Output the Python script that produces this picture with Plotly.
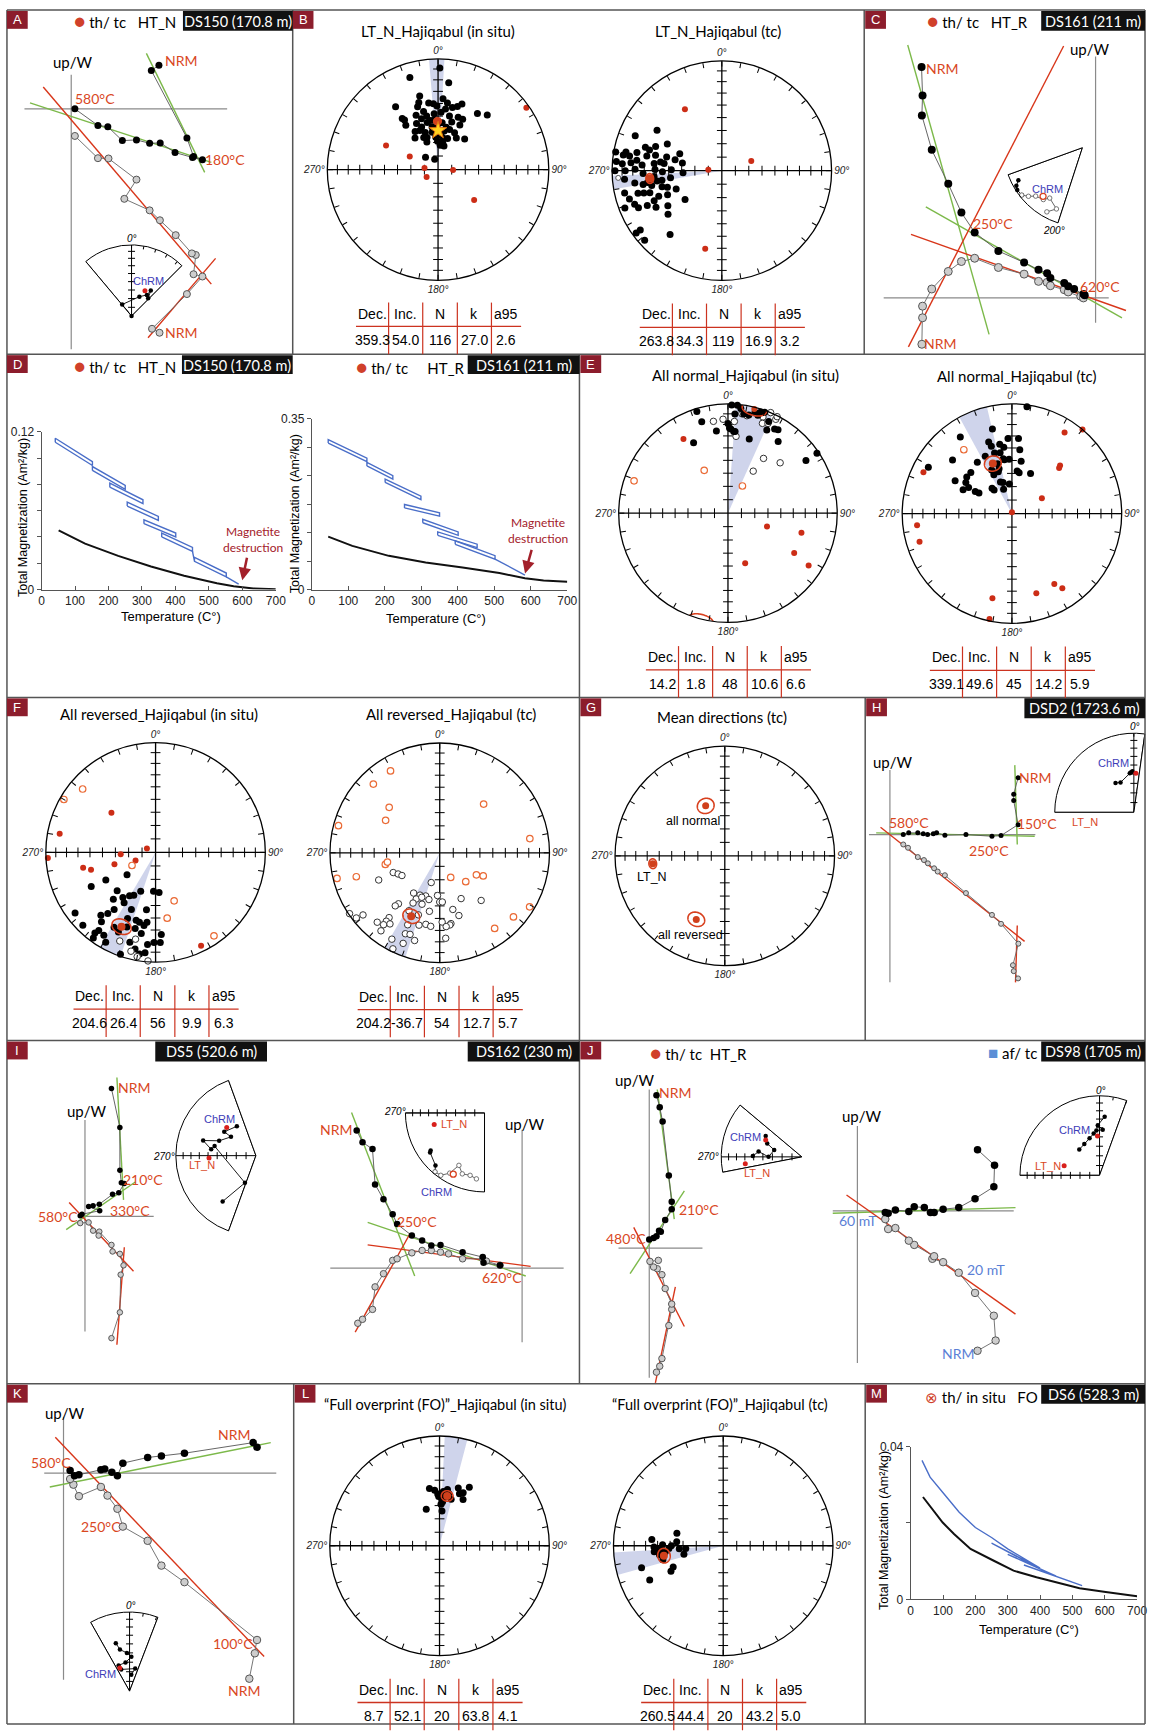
import numpy as np
import plotly.graph_objects as go

W, H = 1157, 1733

# ===================== DATA =====================
# Stereonet directions: (declination, inclination) in degrees
B_IS_BLK = [(1,9),(343,14),(7,22),(346,32),(4,36),(356,40),(352,39),(344,37),(342,40),(326,32),
            (17,40),(20,37),(13,42),(7,44),(35,38),(42,34),(325,43),(326,45),(346,45),(348,49),
            (356,48),(3,47),(12,49),(21,48),(26,48),(324,49),(335,52),(339,56),(347,54),(5,55),
            (16,53),(26,53),(329,57),(335,58),(341,61),(351,62),(9,61),(16,59),(24,60),(324,61),
            (341,65),(356,66),(8,66),(17,66),(30,63),(41,60),(338,68),(359,69),(10,70),(14,72),
            (5,72),(315,77),(342,82),(342,50),(351,53),(359,57),(11,58),(352,58),(338,46),(8,39),
            (359,42),(355,53),(4,64),(336,64)]
B_IS_RED = [(55,3),(295,47),(295,67),(277,80),(91,79),(237,80),(130,55)]
B_TC_BLK = [(302,31),(292,16),(287,28),(290,36),(286,32),(282,22),(281,12),(280,2),(279,10),(279,16),
            (277,23),(281,31),(283,38),(296,44),(292,56),(281,60),(284,47),(278,43),(276,38),(274,28),
            (275,18),(274,10),(275,4),(270,3),(270,13),(271,22),(268,29),(271,39),(269,45),(271,52),
            (267,61),(265,38),(261,44),(262,51),(255,43),(258,35),(260,28),(262,21),(265,12),(253,47),
            (248,53),(232,55),(257,10),(255,22),(253,32),(248,38),(246,45),(249,16),(245,26),(241,32),
            (237,41),(249,6),(246,18),(231,37),(219,26),(234,9),(234,4),(228,6),(254,27),(246,33),
            (253,13),(263,35),(261,40),(261,32),(277,46),(283,54)]
B_TC_RED = [(329,35),(72,67),(274,80),(192,28)]
B_TC_OPEN = [(266,-6)]
GAD_DIR = [(0,61)]

E_IS_BLK = [(343,3),(344,14),(352,25),(334,29),(2,1),(5,1),(4,10),(9,9),(12,9),(15,5),(17,7),(18,3),
            (1,23),(4,26),(5,26),(16,30),(25,17),(29,13),(31,12),(24,9),(35,21),(56,15),(56,2),(0,19),
            (7,4),(20,2),(2,24)]
E_IS_OPEN = [(351,-16),(357,-15),(4,-17),(6,-30),(8,-9),(11,-10),(20,-7),(21,-13),(24,-11),(23,0),
             (27,-4),(27,-1),(33,-40),(46,-34),(31,-53)]
E_IS_RED = [(329,22),(109,59),(105,31),(121,30),(161,50),(123,13)]
E_IS_ORG = [(289,-10),(331,-53),(28,-67)]
E_TC_BLK = [(8,2),(347,22),(357,32),(5,32),(7,41),(350,36),(353,39),(342,32),(343,36),(326,17),
            (312,28),(299,14),(326,43),(335,42),(344,42),(349,43),(351,48),(352,49),(357,49),(10,50),
            (7,58),(10,59),(25,57),(344,51),(344,55),(335,54),(335,58),(315,46),(309,46),(304,48),
            (300,40),(296,49),(301,52),(301,58),(302,61),(322,66),(323,68),(340,65),(344,66),(355,68),
            (341,71),(342,57)]
E_TC_RED = [(33,13),(40,0),(45,38),(46,40),(63,65),(295,12),(263,14),(253,13),(193,22),(192,2),
            (163,25),(149,26),(146,19),(0,89)]
E_TC_ORG = [(323,-28)]

F_IS_BLK = [(232,63),(241,47),(242,34),(225,49),(216,48),(211,52),(207,54),(201,59),(183,61),(175,60),
            (222,42),(212,45),(233,9),(221,25),(218,30),(218,21),(216,36),(203,43),(203,35),(196,36),
            (193,35),(189,46),(187,36),(225,7),(217,9),(216,13),(216,4),(212,12),(209,23),(205,21),
            (201,28),(195,29),(190,26),(189,33),(185,17),(181,19),(176,26),(177,19),(199,2),(196,16),
            (192,11),(189,7),(186,9),(209,7)]
F_IS_OPEN = [(202,-14),(193,-20),(194,-8),(190,-4),(184,-1)]
F_IS_RED = [(312,45),(281,12),(294,83),(267,64),(267,2),(248,74),(254,58),(258,33),(255,39),(154,6)]
F_IS_ORG = [(311,-13),(300,-4),(241,-70),(159,-51),(170,-39),(145,-8)]
F_TC_OPEN = [(247,-52),(243,-55),(239,-57),(246,-39),(196,-67),(213,-54),(205,-55),(198,-56),(193,-54),
             (207,-51),(202,-54),(183,-58),(180,-53),(155,-52),(139,-42),(208,-47),(199,-49),(219,-40),
             (220,-37),(208,-40),(190,-45),(167,-46),(163,-40),(218,-26),(218,-22),(218,-18),(222,-16),
             (215,-22),(199,-40),(196,-32),(204,-29),(178,-37),(171,-35),(172,-34),(191,-34),(187,-33),
             (217,-12),(203,-21),(200,-22),(196,-18),(175,-33),(176,-23),(209,-11),(202,-12),(206,-3),
             (231,-11),(232,-4),(236,-1),(177,-53)]
F_TC_ORG = [(329,-14),(316,-14),(312,-38),(301,-42),(42,-40),(285,-5),(81,-18),(258,-48),(260,-50),
            (256,-4),(254,-22),(156,-70),(138,-61),(121,-58),(118,-53),(121,-5),(131,-12),(144,-16)]

L_IS_BLK = [(350,46),(358,51),(359,53),(4,49),(8,47),(18,44),(27,40),(24,46),(27,51),(7,53),
            (3,56),(2,59),(4,64),(340,61),(10,50),(1,51),(14,54),(355,48),(21,48),(4,57)]
L_TC_BLK = [(285,54),(275,35),(269,37),(271,44),(270,51),(266,57),(266,62),(258,60),(262,41),(257,43),
            (255,24),(244,46),(247,49),(245,27),(267,40),(264,46),(267,49),(266,42),(275,55),(265,37)]

# Site means: (Dec, Inc, N, k, a95)
B_IS_MEAN = (359.3, 54.0, 116, 27.0, 2.6)
B_TC_MEAN = (263.8, 34.3, 119, 16.9, 3.2)
E_IS_MEAN = (14.2, 1.8, 48, 10.6, 6.6)
E_TC_MEAN = (339.1, 49.6, 45, 14.2, 5.9)
F_IS_MEAN = (204.6, 26.4, 56, 9.9, 6.3)
F_TC_MEAN = (204.2, -36.7, 54, 12.7, 5.7)
L_IS_MEAN = (8.7, 52.1, 20, 63.8, 4.1)
L_TC_MEAN = (260.5, 44.4, 20, 43.2, 5.0)
# declination-uncertainty half widths (deg)
B_IS_DD, B_TC_DD, E_IS_DD, E_TC_DD = 4, 3.5, 10, 7.7
F_IS_DD, F_TC_DD, L_IS_DD, L_TC_DD = 6, 6, 6, 6

# Inset stereonet demagnetization paths (dec, inc); negative inc = upper hemisphere
A_INS = [(321,73),(22,66),(36,60),(37,53),(43,62)]
A_INS_CHRM = [(28,57)]
C_INS_BLK = [(243,10),(240,4),(237,2),(232,3)]
C_INS_GRY = [(232,3),(228,-9),(224,-16),(217,-19),(213,-25),(203,-17),(209,-8)]
C_INS_CHRM = [(219,-22)]
H_INS = [(328,54),(336,56),(354,49),(356,48),(358,47)]
H_INS_CHRM = [(3,49)]
H_LTN = [(269,37)]
IL_INS = [(327,54),(307,49),(307,58),(292,49),(286,32),(278,43),(283,46),(202,60),(216,30)]
IL_INS_CHRM = [(314,48)]
IL_LTN = [(267,41)]
IR_INS_BLK = [(235,18),(234,16),(223,10),(220,3)]
IR_INS_GRY = [(220,3),(215,-4),(210,-13),(206,-27),(200,-19),(193,-20),(187,-17)]
IR_INS_CHRM = [(207,-14)]
IR_LTN = [(257,35)]
JL_INS = [(300,47),(291,52),(284,61),(270,56),(277,45),(271,39)]
JL_INS_CHRM = [(295,49)]
JL_LTN = [(263,30)]
JR_INS = [(5,27),(358,37),(4,42),(356,43),(352,46),(345,50),(334,54),(322,56)]
JR_INS_CHRM = [(357,49)]
JR_LTN = [(285,52)]
K_INS = [(344,37),(347,45),(356,50),(3,54),(352,60),(337,61),(339,66),(14,66),(6,73)]
K_INS_CHRM = [(337,64)]

# Zijderveld data (N-component, up/W component), arbitrary intensity units
A_HOR = [(88.7,44),(81,38.7),(117,-29.3),(123.7,-48),(132.7,-51.3),(122.7,-49),(105,-44),(90,-34.3),
         (79.3,-34.7),(66,-31.3),(51.7,-32),(37,-18),(27,-16.7),(3.7,0)]
A_VER = [(89.3,-225.7),(81.7,-221.7),(117,-186.7),(132.7,-169),(123.7,-166.7),(126,-147.3),(122,-145.7),
         (105.7,-127.3),(89.7,-112.3),(79.3,-102.3),(53.7,-90.7),(66,-71.3),(37.7,-50),(27,-49.7),(3.7,-27.3)]
A_FIT_G = [((76,56),(135,-64)),((-41.7,6),(141.7,-54))]
A_FIT_R = [((-28.3,22),(141.7,-176.7)),((77.7,-230.7),(146,-150.7))]
C_HOR = [(-176,232.7),(-175,204),(-175.7,184),(-165.7,149.3),(-149,115),(-135.7,86),(-122.3,66),(-98.3,47.3),
         (-72.3,35.7),(-57.7,28.3),(-49,25),(-45.7,20),(-31.7,15),(-27.7,11.7),(-21.7,9),(-12.3,4),(-11,2.7)]
C_VER = [(-175.7,-46.7),(-175,-20),(-175,-8.3),(-165.7,9),(-149,26.7),(-135.7,36.7),(-122.3,40),(-98.3,30.7),
         (-72.3,24),(-57.7,16.7),(-49,15.7),(-45.7,12.3),(-31.7,8.3),(-27.7,6),(-15,1.7),(-12.3,0)]
C_FIT_G = [((-190,255),(-107.7,-36.7)),((-171.7,91.7),(26.7,-20))]
C_FIT_R = [((-32.3,254),(-189.3,-49.3)),((-186.7,64),(30.7,-12.7))]
H_HOR = [(129.6,57.3),(125.2,40.7),(125.2,34.3),(129.6,10),(112.4,-1),(103.2,-1.7),(76.9,0),(55.6,-0.7),
         (47.2,1.7),(43.9,0.7),(38.1,0),(33.7,0.7),(28.2,1.7),(19,1.7),(13.5,0)]
H_VER = [(129.6,-145),(125.2,-137.7),(124.4,-131.7),(129.9,-110),(112.4,-90),(103.2,-81),(76.9,-59),
         (55.6,-41),(48.3,-37.3),(44.7,-34),(38.4,-29),(34.4,-25.7),(28.2,-22.7),(18.3,-13.3),(13.5,-10)]
H_FIT_G = [((126.3,70),(128.8,-10)),((-13.9,1.7),(146.4,-1.7))]
H_FIT_R = [((-9.5,7.3),(136.2,-107.7)),((128.8,-91.7),(127,-149))]
IL_HOR = [(26.8,129),(35.3,89.7),(35.3,46.7),(36.8,34),(39.8,33.3),(34.2,24),(27.9,22.3),(14.5,12.3),
          (8.2,10.7),(3.7,10),(14.9,5.7),(-3,2.3),(-4.8,0.7)]
IL_VER = [(26.8,-122.7),(35.3,-96.7),(36.1,-58.7),(39,-49.3),(35.3,-37.7),(27.9,-35.3),(26.8,-28.7),
          (14.5,-15.3),(13.8,-19.3),(8.2,-14.3),(3.7,-6),(-4.8,-6.7)]
IL_FIT_G = [((32.3,140),(39,16.7)),((-19,-13.3),(50.9,34.7))]
IL_FIT_R = [((-16,14),(49.1,-55.3)),((39.8,-31),(32.3,-129.3))]
IR_HOR = [(-167.3,138.7),(-161.4,126.7),(-151.3,120),(-148.7,84.3),(-140.2,69.3),(-130.9,54.3),(-126.4,44.3),
          (-111.5,32.7),(-101.1,27.7),(-91.8,22.7),(-82.5,23.3),(-60.2,16),(-39.8,11),(-39,5.3),(-22.3,2.7)]
IR_VER = [(-166.2,-55.7),(-161.4,-51.7),(-151.3,-41.7),(-148.7,-19),(-140.2,-5.7),(-130.9,7.7),(-126.4,9.3),
          (-111.5,15.3),(-101.1,17.7),(-91.8,17.7),(-82.5,16),(-74.4,14.3),(-60.2,9.3),(-39.8,9.3),(-36.1,7),(-22.3,2.7)]
IR_FIT_G = [((-172.5,156.7),(-108.6,-8)),((-156.2,46),(3.7,-8))]
IR_FIT_R = [((-156.2,23.3),(8.6,1.7)),((-168.8,-64.7),(-113,35.3))]
JL_HOR = [(7.3,154.3),(10.6,142),(13.5,127.7),(19.8,73.3),(22.7,46.7),(22.7,39.3),(16.1,28.3),(11.7,16.7),
          (9.9,17.7),(7.3,12),(4.4,10.3),(0,8.7)]
JL_VER = [(7.3,-125),(10.6,-119),(12.8,-111.3),(19.8,-78),(22.7,-61.7),(22.7,-56.3),(16.1,-40.7),(12.8,-26.7),
          (8.1,-20.7),(4.4,-19),(0.7,-13.3),(9.2,-12.3)]
JL_FIT_G = [((8.1,160),(25.3,29.3)),((35.5,57.7),(-19.4,-25.7))]
JL_FIT_R = [((-15.7,21),(35.5,-79)),((26.4,-39),(6.2,-135.7))]
JR_HOR = [(121.5,61.7),(138.7,46),(138,24.3),(119,12.3),(102.5,3.3),(86.7,1.7),(77.6,-1.7),(73.9,-1.7),
          (67.7,3.3),(57.5,4.3),(52,-0.7),(38.4,1),(31.1,-2.3),(28.2,-1.7)]
JR_VER = [(121.5,-141),(139.8,-130.7),(138,-105.7),(119,-82.7),(102.5,-62.3),(86.7,-51.7),(75.8,-48.3),
          (77.6,-45.7),(57.5,-34.3),(52,-30),(38.4,-17.3),(31.1,-18.3),(28.2,-8.3)]
JR_FIT_G = [((-24.9,-2.3),(159.9,3.3))]
JR_FIT_R = [((-11,16),(159.9,-104))]
K_HOR = [(195.7,26),(191.8,30.7),(122.3,20),(99,17.3),(85.1,15.7),(60,10),(54.5,-2.7),(48.9,0.7),(41.7,4),
         (37.8,3.3),(15.6,-1.7),(11.1,-2.7),(6.7,2.7)]
K_VER = [(187.9,-207.3),(193.5,-181.7),(195.7,-168.3),(122.3,-110),(99,-93.3),(85.1,-68.3),(60,-54),(54.5,-36),
         (44.5,-22.7),(37.8,-14),(15.6,-23.3),(10,-11.7),(6.7,-6)]
K_FIT_G = [((-13.9,-14),(209.6,30.7))]
K_FIT_R = [((-8.3,36),(202.9,-185))]

# Thermomagnetic curves: temperature (deg C) and total magnetization (Am2/kg); None separates cycles
D1_HEAT_T = [41,152,152,41,41,None,152,250,250,152,152,None,204,303,303,204,204,None,256,349,349,256,256,None,
             306,401,401,306,306,None,359,451,451,359,359,None,451,457,552,552,457,457,None,552,589]
D1_HEAT_M = [.1121,.0944,.0974,.1151,.1121,None,.0906,.0762,.0792,.0936,.0906,None,.0779,.0653,.0683,.0809,.0779,None,
             .0635,.0526,.0556,.0665,.0635,None,.0501,.0400,.0430,.0531,.0501,None,.0400,.0291,.0321,.0430,.0400,None,
             .0291,.0215,.0096,.0126,.0245,.0215,None,.0096,.0042]
D1_COOL_T = [51,130,229,327,426,475,524,574,633,700]
D1_COOL_M = [.045,.0349,.0256,.0175,.0105,.0075,.0048,.0025,.0008,.0003]
D2_HEAT_T = [45,151,151,45,45,None,151,222,222,151,151,None,201,299,299,201,201,None,254,350,350,254,254,None,
             304,401,401,304,304,None,345,453,453,345,345,None,393,502,502,393,393,None,502,584]
D2_HEAT_M = [.2999,.262,.269,.3069,.2999,None,.2532,.2261,.2331,.2602,.2532,None,.2193,.1841,.1911,.2263,.2193,None,
             .1672,.1503,.1573,.1742,.1672,None,.1368,.111,.118,.1438,.1368,None,.111,.086,.093,.118,.111,None,
             .0927,.0623,.0693,.0997,.0927,None,.0623,.0298]
D2_COOL_T = [45,111,211,312,413,514,584,635,700]
D2_COOL_M = [.1083,.0894,.069,.0555,.0454,.0338,.023,.0183,.0162]
M_HEAT_T = [35,60,100,150,200,250,300,350,400,250,300,350,400,450,300,350,400,450,500,350,400,450,500,530]
M_HEAT_M = [.0364,.032,.0279,.0228,.0188,.0162,.0132,.0106,.0082,.0147,.0124,.0102,.0080,.0061,.0118,.0098,
            .0078,.0060,.0045,.0090,.0074,.0058,.0044,.0036]
M_COOL_T = [38,63,99,134,185,257,318,389,471,522,603,674,700]
M_COOL_M = [.0268,.024,.0201,.0171,.0132,.0101,.0075,.0058,.0041,.0029,.0019,.0012,.0008]

TAB_HEAD = ['Dec.', 'Inc.', 'N', 'k', 'a95']

# ===================== STYLE =====================
TXT = 'Liberation Sans, Arial, sans-serif'
LAB = 'Lato, Open Sans, sans-serif'
ZRED = '#d9481f'; FITRED = '#d8361a'; GREEN = '#7cb94a'; BLUET = '#5b7fd6'
CHRMC = '#3d3db8'; MAROON = '#8c1d2c'; TRED = '#cc3320'; PRED = '#cc2d16'
ORANGE = '#ea6a35'; WEDGE = 'rgba(178,186,222,0.62)'; TBLUE = '#4a6ec8'

fig = go.Figure()
LAY = {}
shapes = []
ann = []
_np = [0]
_nc = [0]


def ea(inc):
    inc = np.abs(np.asarray(inc, dtype=float))
    return np.sqrt(2) * np.sin(np.radians(90 - inc) / 2)


def add_text(x, y, text, size=13, color='black', font=LAB, xanchor='center', yanchor='middle', **kw):
    ann.append(dict(x=x / W, y=1 - y / H, xref='paper', yref='paper', text=text, showarrow=False,
                    font=dict(size=size, color=color, family=font), xanchor=xanchor, yanchor=yanchor, **kw))


def add_line(x0, y0, x1, y1, color='#555', width=1.5):
    shapes.append(dict(type='line', xref='paper', yref='paper', x0=x0 / W, y0=1 - y0 / H, x1=x1 / W,
                       y1=1 - y1 / H, line=dict(color=color, width=width)))


def add_rect(x0, y0, x1, y1, fill):
    shapes.append(dict(type='rect', xref='paper', yref='paper', x0=x0 / W, y0=1 - y1 / H, x1=x1 / W,
                       y1=1 - y0 / H, fillcolor=fill, line=dict(width=0)))


def sector_bbox(s0, s1):
    a0 = s0 % 360
    a1 = a0 + (s1 - s0)
    angs = [a0, a1] + [a for a in range(0, 811, 90) if a0 < a < a1]
    xs = [np.cos(np.radians(a)) for a in angs] + [0.0]
    ys = [np.sin(np.radians(a)) for a in angs] + [0.0]
    return min(xs), max(xs), min(ys), max(ys)


def new_polar(cx, cy, R, dec_range=None, ticklen=5, labels=True, lw=1.3):
    _np[0] += 1
    name = 'polar' if _np[0] == 1 else 'polar%d' % _np[0]
    if dec_range is None:
        sector = [0, 360]
        bx = (-1, 1, -1, 1)
    else:
        d0, d1 = dec_range
        sector = [90 - d1, 90 - d0]
        while sector[0] < 0:
            sector = [sector[0] + 360, sector[1] + 360]
        bx = sector_bbox(*sector)
    x0 = cx + R * bx[0]; x1 = cx + R * bx[1]
    yt = cy - R * bx[3]; yb = cy - R * bx[2]
    tv = list(range(0, 360, 10))
    tt = [('<i>%d°</i>' % v if (labels and v % 90 == 0) else '') for v in tv]
    LAY[name] = dict(
        domain=dict(x=[x0 / W, x1 / W], y=[1 - yb / H, 1 - yt / H]), sector=sector, bgcolor='white',
        angularaxis=dict(rotation=90, direction='clockwise', showgrid=False, showline=True,
                         linecolor='black', linewidth=lw, ticks='inside', ticklen=ticklen, tickwidth=1,
                         tickcolor='black', tickmode='array', tickvals=tv, ticktext=tt,
                         showticklabels=labels, tickfont=dict(size=10, family=TXT, color='#222')),
        radialaxis=dict(visible=False, range=[0, 1]))
    return name


def ptrace(sp, data, marker=None, mode='markers', line=None):
    d = [p[0] for p in data]
    i = [p[1] for p in data]
    fig.add_trace(go.Scatterpolar(theta=d, r=ea(i), subplot=sp, mode=mode, marker=marker, line=line,
                                  cliponaxis=False, showlegend=False, hoverinfo='skip'))


TICK_INC = np.arange(10, 90, 10)


def axis_line(sp, dec_a, dec_b=None, sym='line-ew', size=7, width=1.3):
    if dec_b is not None:
        th, rr = [dec_a, dec_b], [1, 1]
        td = [dec_a] * len(TICK_INC) + [dec_b] * len(TICK_INC)
        tr = list(ea(TICK_INC)) * 2
    else:
        th, rr = [dec_a, dec_a], [0, 1]
        td = [dec_a] * len(TICK_INC)
        tr = list(ea(TICK_INC))
    fig.add_trace(go.Scatterpolar(theta=th, r=rr, subplot=sp, mode='lines', line=dict(color='black', width=width),
                                  cliponaxis=False, showlegend=False, hoverinfo='skip'))
    if sym:
        fig.add_trace(go.Scatterpolar(theta=td, r=tr, subplot=sp, mode='markers',
                                      marker=dict(symbol=sym, size=size, line=dict(color='black', width=1)),
                                      cliponaxis=False, showlegend=False, hoverinfo='skip'))


def edge(sp, dec):
    fig.add_trace(go.Scatterpolar(theta=[dec, dec], r=[0, 1], subplot=sp, mode='lines',
                                  line=dict(color='black', width=1), cliponaxis=False, showlegend=False,
                                  hoverinfo='skip'))


def wedge(sp, dec, dd):
    arc = list(np.linspace(dec - dd, dec + dd, 24))
    fig.add_trace(go.Scatterpolar(theta=[dec] + arc + [dec], r=[0] + [1] * 24 + [0], subplot=sp, mode='lines',
                                  fill='toself', fillcolor=WEDGE, line=dict(width=0, color=WEDGE),
                                  showlegend=False, hoverinfo='skip'))


def small_circle(dec, inc, a95, n=120):
    D, I, A = np.radians([dec, inc, a95])
    m = np.array([np.cos(I) * np.cos(D), np.cos(I) * np.sin(D), np.sin(I)])
    e1 = np.array([-np.sin(I) * np.cos(D), -np.sin(I) * np.sin(D), np.cos(I)])
    e2 = np.array([-np.sin(D), np.cos(D), 0.0])
    t = np.linspace(0, 2 * np.pi, n)
    p = np.cos(A) * m[:, None] + np.sin(A) * (np.cos(t) * e1[:, None] + np.sin(t) * e2[:, None])
    dd = np.degrees(np.arctan2(p[1], p[0])) % 360
    ii = np.degrees(np.arcsin(np.clip(p[2], -1, 1)))
    return dd, ii


def mean_trace(sp, mean, size=8):
    dec, inc, N, k, a95 = mean
    dd, ii = small_circle(dec, inc, a95)
    flip = np.sign(ii) != np.sign(inc)
    th = np.where(flip, dd + 180, dd) % 360
    rr = ea(ii)
    T, Rr = [], []
    for j in range(len(th)):
        if j > 0 and flip[j] != flip[j - 1]:
            T.append(None); Rr.append(None)
        T.append(float(th[j])); Rr.append(float(rr[j]))
    fig.add_trace(go.Scatterpolar(theta=T, r=Rr, subplot=sp, mode='lines', line=dict(color='#d8401e', width=1.6),
                                  cliponaxis=False, showlegend=False, hoverinfo='skip', connectgaps=False))
    ptrace(sp, [(dec, inc)], marker=dict(size=size, color='#d0401c'))


def table(cx, cy, mean):
    dec, inc, N, k, a95 = mean
    vals = ['%.1f' % dec, '%.1f' % inc, '%d' % N, '%.1f' % k, '%.1f' % a95]
    edges = [-83, -50, -15.5, 19.5, 54, 84]
    for j in range(5):
        xc = cx + (edges[j] + edges[j + 1]) / 2
        add_text(xc, cy + 145, TAB_HEAD[j], size=14, font=TXT)
        add_text(xc, cy + 172, vals[j], size=14, font=TXT)
    add_line(cx - 83, cy + 158, cx + 84, cy + 158, color=TRED, width=1.3)
    for e in edges[1:5]:
        add_line(cx + e, cy + 134, cx + e, cy + 186, color=TRED, width=1.2)


BLK = dict(size=7, color='black')
OPEN = dict(size=6.5, color='white', line=dict(color='#333', width=1))
REDM = dict(size=6, color=PRED)
ORG = dict(size=6.5, color='white', line=dict(color=ORANGE, width=1.2))


def net(cx, cy, R, title, tx, ty, tsize=15):
    sp = new_polar(cx, cy, R)
    add_text(tx, ty, title, size=tsize)
    return sp


def furniture(sp):
    axis_line(sp, 0, 180, 'line-ew')
    axis_line(sp, 90, 270, 'line-ns')


# ---------- cartesian helpers ----------
def new_cart(box, origin=None, xr=None, yr=None, visible=False, xstyle=None, ystyle=None):
    _nc[0] += 1
    n = _nc[0]
    xa = 'xaxis' if n == 1 else 'xaxis%d' % n
    ya = 'yaxis' if n == 1 else 'yaxis%d' % n
    xid = 'x' if n == 1 else 'x%d' % n
    yid = 'y' if n == 1 else 'y%d' % n
    x0, y0, x1, y1 = box
    if origin is not None:
        ox, oy = origin
        xr = [x0 - ox, x1 - ox]
        yr = [oy - y1, oy - y0]
    LAY[xa] = dict(domain=[x0 / W, x1 / W], range=xr, anchor=yid, visible=visible, showgrid=False,
                   zeroline=False, fixedrange=True, **(xstyle or {}))
    LAY[ya] = dict(domain=[1 - y1 / H, 1 - y0 / H], range=yr, anchor=xid, visible=visible, showgrid=False,
                   zeroline=False, fixedrange=True, **(ystyle or {}))
    return xid, yid


def zij(box, origin, hor, ver, fits_g, fits_r, cross_ext, labels, ms=7):
    xid, yid = new_cart(box, origin)

    def sc(**kw):
        fig.add_trace(go.Scatter(xaxis=xid, yaxis=yid, showlegend=False, hoverinfo='skip', cliponaxis=False, **kw))
    xa0, xa1, ya0, ya1 = cross_ext
    sc(x=[xa0, xa1], y=[0, 0], mode='lines', line=dict(color='#8a8a8a', width=1.2))
    sc(x=[0, 0], y=[ya0, ya1], mode='lines', line=dict(color='#8a8a8a', width=1.2))
    for p, q in fits_g:
        sc(x=[p[0], q[0]], y=[p[1], q[1]], mode='lines', line=dict(color=GREEN, width=1.4))
    for p, q in fits_r:
        sc(x=[p[0], q[0]], y=[p[1], q[1]], mode='lines', line=dict(color=FITRED, width=1.4))
    sc(x=[p[0] for p in ver], y=[p[1] for p in ver], mode='lines+markers', line=dict(color='#666', width=0.9),
       marker=dict(size=ms, color='#cdcdcd', line=dict(color='#555', width=1)))
    sc(x=[p[0] for p in hor], y=[p[1] for p in hor], mode='lines+markers', line=dict(color='#555', width=0.9),
       marker=dict(size=ms, color='black'))
    for lb in labels:
        text, x, y = lb[0], lb[1], lb[2]
        col = lb[3] if len(lb) > 3 else (ZRED if text != 'up/W' else 'black')
        ann.append(dict(x=x, y=y, xref=xid, yref=yid, text=text, showarrow=False,
                        font=dict(size=15 if text == 'up/W' else 14, color=col, family=LAB)))


def thermo(box, ymax, ytv, ytt, hT, hM, cT, cM):
    ax = dict(showline=True, linecolor='#555', linewidth=1, ticklen=4, tickcolor='#555',
              tickfont=dict(size=12, family=TXT, color='#222'))
    xs = dict(ax, ticks='inside', tickmode='array', tickvals=list(range(0, 701, 100)))
    ys = dict(ax, ticks='outside', tickmode='array', tickvals=ytv, ticktext=ytt)
    xid, yid = new_cart(box, xr=[0, 700], yr=[0, ymax], visible=True, xstyle=xs, ystyle=ys)
    fig.add_trace(go.Scatter(x=cT, y=cM, xaxis=xid, yaxis=yid, mode='lines', line=dict(color='#111', width=2),
                             showlegend=False, hoverinfo='skip'))
    fig.add_trace(go.Scatter(x=hT, y=hM, xaxis=xid, yaxis=yid, mode='lines', line=dict(color=TBLUE, width=1.4),
                             showlegend=False, hoverinfo='skip', connectgaps=False))


def inset(cx, cy, R, drange, axes, pts_paths, chrm, ltn=None):
    sp = new_polar(cx, cy, R, drange, ticklen=3, labels=False, lw=1)
    edge(sp, drange[0]); edge(sp, drange[1])
    for d, sym in axes:
        axis_line(sp, d, None, sym, size=5, width=1)
    for data, kind in pts_paths:
        if kind == 'blk':
            ptrace(sp, data, marker=dict(size=4.5, color='black'), mode='lines+markers',
                   line=dict(color='black', width=0.9))
        else:
            ptrace(sp, data, marker=dict(size=4.5, color='white', line=dict(color='#555', width=0.8)),
                   mode='lines+markers', line=dict(color='#555', width=0.9))
    for c in chrm:
        if c[1] < 0:
            ptrace(sp, [c], marker=dict(size=6, color='white', line=dict(color='#d8401e', width=1.3)))
        else:
            ptrace(sp, [c], marker=dict(size=5, color='#d8201c'))
    if ltn:
        ptrace(sp, ltn, marker=dict(size=5, color='#d8201c'))
    return sp


# ===================== PANEL FRAMES / HEADERS =====================
add_line(4, 3, 1155, 3); add_line(4, 1731, 1155, 1731); add_line(4, 3, 4, 1731); add_line(1155, 3, 1155, 1731)
for yy in (350, 696, 1042, 1388):
    add_line(4, yy, 1155, yy)
add_line(293, 3, 293, 350); add_line(871, 3, 871, 350)
add_line(583, 350, 583, 696)
add_line(583, 696, 583, 1042); add_line(872, 696, 872, 1042)
add_line(583, 1042, 583, 1388)
add_line(294, 1388, 294, 1731); add_line(872, 1388, 872, 1731)

for lt, x0, y0 in [('A', 4, 4), ('B', 293, 4), ('C', 872, 4), ('D', 4, 351), ('E', 584, 351), ('F', 4, 697),
                   ('G', 584, 697), ('H', 873, 697), ('I', 4, 1043), ('J', 584, 1043), ('K', 4, 1389),
                   ('L', 295, 1389), ('M', 873, 1389)]:
    add_rect(x0, y0, x0 + 21, y0 + 18, MAROON)
    add_text(x0 + 10.5, y0 + 9, lt, size=13, color='white', font=TXT)

for txt, x0, y0, x1, y1 in [('DS150 (170.8 m)', 182, 4, 293, 24), ('DS161 (211 m)', 1050, 4, 1155, 24),
                            ('DS150 (170.8 m)', 181, 351, 293, 370), ('DS161 (211 m)', 470, 351, 583, 370),
                            ('DSD2 (1723.6 m)', 1033, 697, 1155, 717), ('DS5 (520.6 m)', 154, 1043, 267, 1063),
                            ('DS162 (230 m)', 470, 1043, 583, 1063), ('DS98 (1705 m)', 1050, 1043, 1155, 1063),
                            ('DS6 (528.3 m)', 1050, 1389, 1155, 1408)]:
    add_rect(x0, y0, x1, y1, '#111')
    add_text((x0 + x1) / 2, (y0 + y1) / 2 + 0.5, txt, size=14.5, color='white')

DOT = '<span style="color:#d0402a;font-size:19px">●</span>'
add_text(70, 14, DOT + ' th/ tc   HT_N', size=15, xanchor='left')
add_text(932, 14, DOT + ' th/ tc   HT_R', size=15, xanchor='left')
add_text(70, 361, DOT + ' th/ tc   HT_N', size=15, xanchor='left')
add_text(355, 362, DOT + ' th/ tc     HT_R', size=15, xanchor='left')
add_text(652, 1054, DOT + ' th/ tc  HT_R', size=15, xanchor='left')
add_text(994, 1054, '<span style="color:#5b8fd6;font-size:17px">■</span> af/ tc', size=15, xanchor='left')
add_text(930, 1401, '<span style="color:#d0402a">⊗</span> th/ in situ   FO', size=15, xanchor='left')

# ===================== STEREONETS =====================
# B
sp = net(440, 164, 112, 'LT_N_Hajiqabul (in situ)', 440, 24)
wedge(sp, B_IS_MEAN[0], B_IS_DD); furniture(sp)
ptrace(sp, B_IS_BLK, BLK); ptrace(sp, B_IS_RED, REDM)
mean_trace(sp, B_IS_MEAN)
ptrace(sp, GAD_DIR, dict(symbol='star', size=13, color='#ffd21f', line=dict(color='#e07010', width=1)))
table(440, 164, B_IS_MEAN)

sp = net(727, 165, 111, 'LT_N_Hajiqabul (tc)', 723, 24)
wedge(sp, B_TC_MEAN[0], B_TC_DD); furniture(sp)
ptrace(sp, B_TC_BLK, BLK); ptrace(sp, B_TC_RED, REDM); ptrace(sp, B_TC_OPEN, dict(size=5, color='white', line=dict(color='#555', width=1)))
mean_trace(sp, B_TC_MEAN)
table(727, 165, B_TC_MEAN)

# E
sp = net(733.2, 510.3, 110.5, 'All normal_Hajiqabul (in situ)', 750.6, 370.7)
wedge(sp, E_IS_MEAN[0], E_IS_DD); furniture(sp)
ptrace(sp, E_IS_OPEN, OPEN); ptrace(sp, E_IS_BLK, BLK); ptrace(sp, E_IS_RED, REDM); ptrace(sp, E_IS_ORG, ORG)
mean_trace(sp, E_IS_MEAN, size=6)
table(733.2, 510.3, E_IS_MEAN)

sp = net(1020.4, 510.7, 111, 'All normal_Hajiqabul (tc)', 1025, 371.7)
wedge(sp, E_TC_MEAN[0], E_TC_DD); furniture(sp)
ptrace(sp, E_TC_BLK, BLK); ptrace(sp, E_TC_RED, REDM); ptrace(sp, E_TC_ORG, ORG)
mean_trace(sp, E_TC_MEAN)
table(1020.4, 510.7, E_TC_MEAN)

# F
sp = net(154.3, 852.3, 111, 'All reversed_Hajiqabul (in situ)', 158, 712.7)
wedge(sp, F_IS_MEAN[0], F_IS_DD); furniture(sp)
ptrace(sp, F_IS_BLK, BLK); ptrace(sp, F_IS_OPEN, OPEN); ptrace(sp, F_IS_RED, REDM); ptrace(sp, F_IS_ORG, ORG)
mean_trace(sp, F_IS_MEAN)
table(154.3, 852.3, F_IS_MEAN)

sp = net(441.7, 852.7, 111, 'All reversed_Hajiqabul (tc)', 452.8, 712.7)
wedge(sp, F_TC_MEAN[0], F_TC_DD); furniture(sp)
ptrace(sp, F_TC_OPEN, OPEN); ptrace(sp, F_TC_ORG, ORG)
mean_trace(sp, F_TC_MEAN)
table(441.7, 852.7, F_TC_MEAN)

# G
sp = net(730, 855.8, 111, 'Mean directions (tc)', 726.8, 715.3)
furniture(sp)
mean_trace(sp, E_TC_MEAN, size=7); mean_trace(sp, B_TC_MEAN, size=7); mean_trace(sp, F_TC_MEAN, size=7)
add_text(698, 821, 'all normal', size=12.5, font=TXT)
add_text(656.2, 877, 'LT_N', size=12.5, font=TXT)
add_text(695, 935.3, 'all reversed', size=12.5, font=TXT)

# L
sp = net(441.5, 1551.3, 111, '“Full overprint (FO)”_Hajiqabul (in situ)', 447.6, 1408.7, tsize=14.5)
wedge(sp, L_IS_MEAN[0], L_IS_DD); furniture(sp)
ptrace(sp, L_IS_BLK, BLK)
mean_trace(sp, L_IS_MEAN)
table(441.5, 1551.3, L_IS_MEAN)

sp = net(728.4, 1551.3, 111, '“Full overprint (FO)”_Hajiqabul (tc)', 725.6, 1408.7, tsize=14.5)
wedge(sp, L_TC_MEAN[0], L_TC_DD); furniture(sp)
ptrace(sp, L_TC_BLK, BLK)
mean_trace(sp, L_TC_MEAN)
table(728.4, 1551.3, L_TC_MEAN)

# ===================== ZIJDERVELD PLOTS =====================
zij((6, 28, 290, 348), (69, 102.7), A_HOR, A_VER, A_FIT_G, A_FIT_R, (-47.3, 157.7, -242.3, 34.3),
    [('NRM', 111, 48.7), ('580°C', 24.3, 10), ('180°C', 156, -51.3), ('NRM', 111, -225.7), ('up/W', 1, 47.7)])
zij((874, 28, 1155, 348), (1105, 293.3), C_HOR, C_VER, C_FIT_G, C_FIT_R, (-214.3, 13.3, -25, 243.3),
    [('NRM', -155, 231.7), ('NRM', -157.3, -46), ('250°C', -103.3, 75), ('620°C', 4.3, 11.7), ('up/W', -5.7, 250.7)], ms=8)
zij((875, 720, 1155, 1040), (897, 834.3), H_HOR, H_VER, H_FIT_G, H_FIT_R, (-21.2, 147.1, -149, 65),
    [('NRM', 147.1, 57.3), ('150°C', 149, 10.7), ('250°C', 100.7, -16), ('580°C', 19, 11.7), ('up/W', 2.6, 73.3)], ms=5)
zij((6, 1066, 170, 1386), (82.9, 1219.3), IL_HOR, IL_VER, IL_FIT_G, IL_FIT_R, (-4.8, 69.5, -116, 97.3),
    [('NRM', 49.8, 129.7), ('210°C', 58.4, 37.3), ('330°C', 45.4, 5.7), ('580°C', -27.1, -0.3), ('up/W', 1.9, 106.7)], ms=5.5)
zij((300, 1066, 581, 1386), (525, 1271.3), IR_HOR, IR_VER, IR_FIT_G, IR_FIT_R, (-194, 42, -74.7, 139.3),
    [('NRM', -188.5, 139.3), ('250°C', -106.7, 46.7), ('620°C', -20.4, -10), ('up/W', 2.2, 145.3)], ms=6.5)
zij((586, 1066, 760, 1388), (653.6, 1251.3), JL_HOR, JL_VER, JL_FIT_G, JL_FIT_R, (-31.1, 53.8, -130.7, 160),
    [('NRM', 26.4, 156.7), ('210°C', 50.1, 39.3), ('480°C', -23.1, 9.3), ('up/W', -15, 169.3)], ms=6.5)
zij((800, 1066, 1030, 1386), (864.1, 1213.7), JR_HOR, JR_VER, JR_FIT_G, JR_FIT_R, (-24.9, 158.1, -153.3, 85.7),
    [('60 mT', 1.5, -10, BLUET), ('20 mT', 130.7, -59.3, BLUET), ('NRM', 101.4, -143.3, BLUET), ('up/W', 4.4, 95.7)], ms=7.5)
zij((6, 1410, 292, 1731), (61.2, 1478), K_HOR, K_VER, K_FIT_G, K_FIT_R, (-19.5, 215.2, -208.3, 56.7),
    [('NRM', 172.4, 39.3), ('580°C', -12.2, 10.7), ('250°C', 37.8, -54), ('100°C', 171.2, -171.7),
     ('NRM', 182.4, -219.3), ('up/W', 1.1, 60.7)], ms=7.5)

# ===================== INSET STEREONETS =====================
inset(130, 311.7, 72, (-40, 45), [(0, 'line-ew')], [([(0, 90)] + A_INS, 'blk')], A_INS_CHRM)
add_text(130.7, 233.3, '<i>0°</i>', size=10, font=TXT); add_text(146.7, 276, 'ChRM', size=11, color=CHRMC, font=TXT)

inset(1091.7, 141.7, 80, (198, 250), [], [(C_INS_BLK, 'blk'), (C_INS_GRY, 'gry')], C_INS_CHRM)
add_text(1063.3, 225, '<i>200°</i>', size=10, font=TXT); add_text(1056.7, 183.3, 'ChRM', size=11, color=CHRMC, font=TXT)

inset(1143.7, 812, 80, (270, 368), [(0, 'line-ew')], [(H_INS, 'blk')], H_INS_CHRM, H_LTN)
add_text(1144.8, 725.3, '<i>0°</i>', size=10, font=TXT); add_text(1123.6, 762, 'ChRM', size=11, color=CHRMC, font=TXT)
add_text(1094.7, 822, 'LT_N', size=11, color=ZRED, font=TXT)

inset(255.8, 1158, 81, (200, 340), [(270, 'line-ns')], [(IL_INS, 'blk')], IL_INS_CHRM, IL_LTN)
add_text(162.5, 1158.7, '<i>270°</i>', size=10, font=TXT); add_text(218.6, 1121.3, 'ChRM', size=11, color=CHRMC, font=TXT)
add_text(200.8, 1167, 'LT_N', size=11, color=ZRED, font=TXT)

inset(487, 1114.7, 80, (180, 270), [(270, 'line-ns')], [(IR_INS_BLK, 'blk'), (IR_INS_GRY, 'gry')], IR_INS_CHRM, IR_LTN)
add_text(396, 1113.7, '<i>270°</i>', size=10, font=TXT); add_text(438, 1194.3, 'ChRM', size=11, color=CHRMC, font=TXT)
add_text(456, 1126.3, 'LT_N', size=11, color=ZRED, font=TXT)

inset(808, 1159.3, 81.6, (259, 310), [(270, 'line-ns')], [(JL_INS, 'blk')], JL_INS_CHRM, JL_LTN)
add_text(713, 1158.7, '<i>270°</i>', size=10, font=TXT); add_text(751.4, 1139.7, 'ChRM', size=11, color=CHRMC, font=TXT)
add_text(762.3, 1176, 'LT_N', size=11, color=ZRED, font=TXT)

inset(1109, 1178, 80.5, (270, 380), [(0, 'line-ew'), (270, 'line-ns')], [(JR_INS, 'blk')], JR_INS_CHRM, JR_LTN)
add_text(1110, 1092, '<i>0°</i>', size=10, font=TXT); add_text(1083.7, 1132, 'ChRM', size=11, color=CHRMC, font=TXT)
add_text(1057, 1168.7, 'LT_N', size=11, color=ZRED, font=TXT)

inset(128, 1698, 80, (-29.5, 21), [(0, 'line-ew')], [(K_INS, 'blk')], K_INS_CHRM)
add_text(129, 1611.3, '<i>0°</i>', size=10, font=TXT); add_text(99, 1680.7, 'ChRM', size=11, color=CHRMC, font=TXT)

# ===================== THERMOMAGNETIC CURVES =====================
thermo((39, 428.3, 275.9, 587.3), 0.12, [0, .02, .04, .06, .08, .10, .12], ['0', '', '', '', '', '', '0.12'],
       D1_HEAT_T, D1_HEAT_M, D1_COOL_T, D1_COOL_M)
thermo((312.3, 415, 570.7, 587.3), 0.35, [0.35 * k / 6 for k in range(7)], ['0', '', '', '', '', '', '0.35'],
       D2_HEAT_T, D2_HEAT_M, D2_COOL_T, D2_COOL_M)
thermo((918, 1451.3, 1147, 1605.3), 0.04, [0, 0.02, 0.04], ['0', '', '0.04'],
       M_HEAT_T, M_HEAT_M, M_COOL_T, M_COOL_M)
for x, y in [(170.3, 614), (438, 616), (1037.7, 1635.3)]:
    add_text(x, y, 'Temperature (C°)', size=13, font=TXT)
for x, y in [(20.4, 515), (295.6, 511), (890.3, 1536)]:
    add_text(x, y, 'Total Magnetization (Am²/kg)', size=12.5, font=TXT, textangle=-90)
add_text(252.8, 537, 'Magnetite<br>destruction', size=12, color='#a3202a')
add_text(541, 528, 'Magnetite<br>destruction', size=12, color='#a3202a')
for hx, hy, dx, dy in [(242, 578, 5, -24), (528, 571, 7, -25)]:
    ann.append(dict(x=hx / W, y=1 - hy / H, xref='paper', yref='paper', text='', showarrow=True, ax=dx, ay=dy,
                    arrowhead=2, arrowsize=1, arrowwidth=2.5, arrowcolor='#a3202a'))

fig.update_layout(width=W, height=H, margin=dict(l=0, r=0, t=0, b=0), paper_bgcolor='white',
                  plot_bgcolor='rgba(0,0,0,0)', showlegend=False, shapes=shapes, annotations=ann, **LAY)
fig.write_html("out.html", config={'displayModeBar': False, 'staticPlot': True},
               post_script="document.body.style.margin='0';document.body.style.overflow='hidden';")
